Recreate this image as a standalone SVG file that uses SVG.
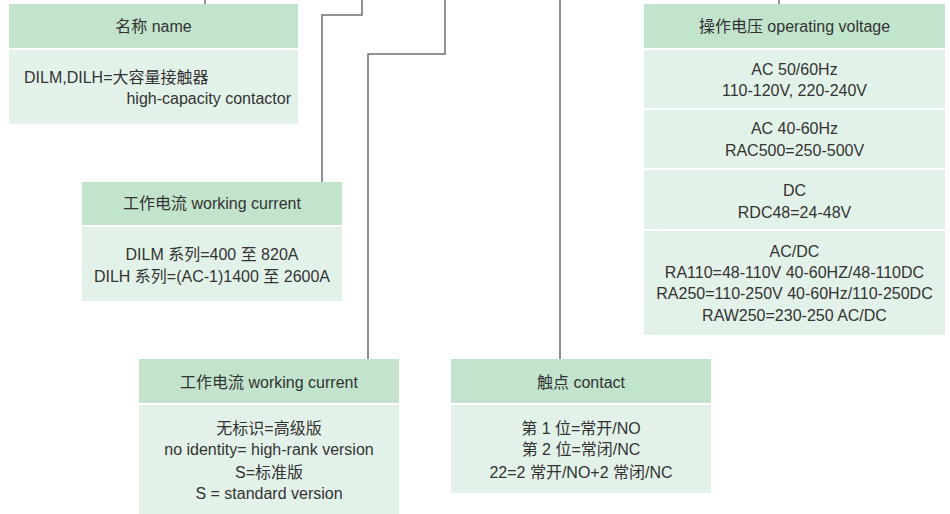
<svg xmlns="http://www.w3.org/2000/svg" width="950" height="514" viewBox="0 0 950 514">
<style>
.h{fill:#c2e4cc}
.b{fill:#e3f2e8}
.t{font-family:"Liberation Sans","Noto Sans CJK SC",sans-serif;font-size:16px;fill:#333;text-anchor:middle}
.l{fill:none;stroke:#6e6e6e;stroke-width:1.5}
</style>
<rect width="950" height="514" fill="#fff"/>
<g id="connectors">
<path class="l" d="M205,0V4"/>
<path class="l" d="M362,0V15H322V182"/>
<path class="l" d="M445,0V54H368V359"/>
<path class="l" d="M560,0V359"/>
<path class="l" d="M779,0V4"/>
</g>
<g id="name">
<rect class="h" x="9" y="4" width="289" height="44"/>
<rect class="b" x="9" y="50" width="289" height="74"/>
<text class="t" x="153.5" y="32">名称 name</text>
<text class="t" x="24" y="83" style="text-anchor:start">DILM,DILH=大容量接触器</text>
<text class="t" x="291" y="104" style="text-anchor:end">high-capacity contactor</text>
</g>
<g id="current1">
<rect class="h" x="82" y="182" width="260" height="43"/>
<rect class="b" x="82" y="227" width="260" height="74"/>
<text class="t" x="212" y="209">工作电流 working current</text>
<text class="t" x="212" y="260">DILM 系列=400 至 820A</text>
<text class="t" x="212" y="282">DILH 系列=(AC-1)1400 至 2600A</text>
</g>
<g id="current2">
<rect class="h" x="139" y="359" width="260" height="44"/>
<rect class="b" x="139" y="405" width="260" height="109"/>
<text class="t" x="269" y="388">工作电流 working current</text>
<text class="t" x="269" y="434">无标识=高级版</text>
<text class="t" x="269" y="455">no identity= high-rank version</text>
<text class="t" x="269" y="478">S=标准版</text>
<text class="t" x="269" y="499">S = standard version</text>
</g>
<g id="contact">
<rect class="h" x="451" y="359" width="260" height="44"/>
<rect class="b" x="451" y="405" width="260" height="88"/>
<text class="t" x="581" y="388">触点 contact</text>
<text class="t" x="581" y="434">第 1 位=常开/NO</text>
<text class="t" x="581" y="455">第 2 位=常闭/NC</text>
<text class="t" x="581" y="478">22=2 常开/NO+2 常闭/NC</text>
</g>
<g id="voltage">
<rect class="h" x="644" y="4" width="301" height="44"/>
<rect class="b" x="644" y="50" width="301" height="58"/>
<rect class="b" x="644" y="110" width="301" height="58"/>
<rect class="b" x="644" y="170" width="301" height="59"/>
<rect class="b" x="644" y="231" width="301" height="104"/>
<text class="t" x="794.5" y="32">操作电压 operating voltage</text>
<text class="t" x="794.5" y="75">AC 50/60Hz</text>
<text class="t" x="794.5" y="96">110-120V, 220-240V</text>
<text class="t" x="794.5" y="134">AC 40-60Hz</text>
<text class="t" x="794.5" y="156">RAC500=250-500V</text>
<text class="t" x="794.5" y="196">DC</text>
<text class="t" x="794.5" y="218">RDC48=24-48V</text>
<text class="t" x="794.5" y="257">AC/DC</text>
<text class="t" x="794.5" y="278">RA110=48-110V 40-60HZ/48-110DC</text>
<text class="t" x="794.5" y="299">RA250=110-250V 40-60Hz/110-250DC</text>
<text class="t" x="794.5" y="321">RAW250=230-250 AC/DC</text>
</g>
</svg>
